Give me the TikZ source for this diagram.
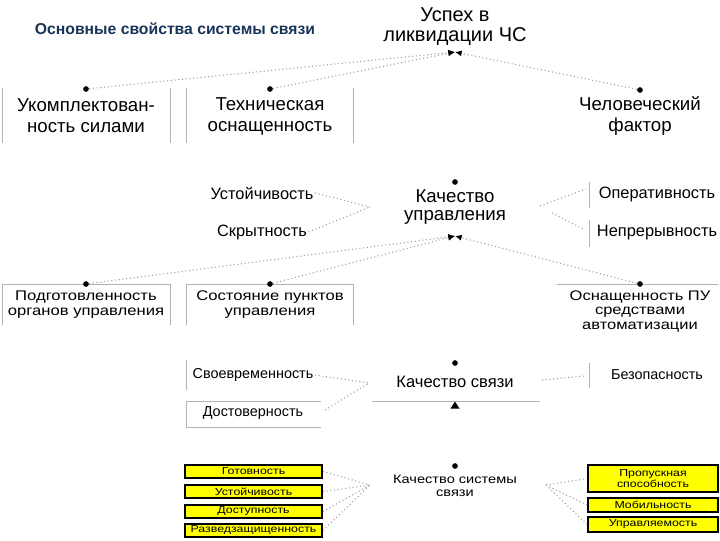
\documentclass[tikz,border=0pt]{standalone}
\usepackage{fontspec}
\setmainfont{Liberation Sans}
\newfontfamily\widefont[FakeStretch=1.19]{Liberation Sans}
\newfontfamily\widerfont[FakeStretch=1.22]{Liberation Sans}
\usetikzlibrary{arrows.meta}
\definecolor{titleblue}{RGB}{24,52,88}
\definecolor{ylw}{RGB}{255,255,0}
\tikzset{
  conn/.style={draw=gray!75, dotted, line width=0.8pt},
  arr/.style={conn, -{Latex[length=5pt,width=4.5pt,fill=black,color=black]}},
  gline/.style={draw=gray!60, line width=0.7pt},
  dotn/.style={circle, fill=black, inner sep=1.5pt},
  txt/.style={align=center, inner sep=1pt},
  ybox/.style={draw=black, line width=1.4pt, fill=ylw, inner sep=0pt, align=center, font=\widerfont\fontsize{7.6}{8.2}\selectfont},
}
\begin{document}
\begin{tikzpicture}[x=0.75pt,y=-0.75pt]
\useasboundingbox (0,0) rectangle (720,540);
\fill[white] (0,0) rectangle (720,540);

% title
\node[txt, text=titleblue, font=\bfseries\fontsize{11.8}{13}\selectfont] (title) at (175,29) {Основные свойства системы связи};

% ---------- level 1
\node[txt, font=\fontsize{15}{15}\selectfont] (uspeh) at (455,27) {Успех в\\ликвидации ЧС};
\coordinate (h1) at (455,52);

\draw[gline] (2,88) -- (2,143) (170,88) -- (170,143) (186,88) -- (186,143) (353,88) -- (353,143);
\node[dotn] (d11) at (86,89) {};
\node[dotn] (d12) at (270,89) {};
\node[dotn] (d13) at (640,90) {};
\node[txt, font=\fontsize{14}{15.75}\selectfont] (ukompl) at (86,116) {Укомплектован-\\ность силами};
\node[txt, font=\fontsize{14}{15.75}\selectfont] (tehn) at (270,116) {Техническая\\оснащенность};
\node[txt, font=\fontsize{14}{15.75}\selectfont] (chel) at (640,116) {Человеческий\\фактор};
\draw[arr] (d11) -- (h1);
\draw[arr] (d12) -- (h1);
\draw[arr] (d13) -- (h1);

% ---------- level 2
\node[dotn] (dku) at (455,182) {};
\node[txt, font=\fontsize{14}{13.5}\selectfont] (kuprav) at (455,207) {Качество\\управления};
\coordinate (h2) at (455,236);

\node[txt, font=\fontsize{12.3}{14}\selectfont] (ustoi) at (262,193) {Устойчивость};
\node[txt, font=\fontsize{12.3}{14}\selectfont] (skryt) at (262,232) {Скрытность};
\node[txt, font=\fontsize{12.3}{14}\selectfont] (operat) at (657,194) {Оперативность};
\node[txt, font=\fontsize{12.3}{14}\selectfont] (nepr) at (657,233) {Непрерывность};
\draw[gline] (589,182) -- (589,208) (589,220) -- (589,247);
\coordinate (cl2) at (370,207);
\coordinate (cr2a) at (540,206);
\coordinate (cr2b) at (552,213);
\draw[conn] (ustoi.east) -- (cl2);
\draw[conn] (skryt.east) -- (cl2);
\draw[conn] (cr2a) -- (586,189);
\draw[conn] (cr2b) -- (583,229);

\draw[gline] (2,325) -- (2,284) -- (170,284) -- (170,325);
\draw[gline] (186,325) -- (186,284) -- (353,284) -- (353,325);
\draw[gline] (557,284) -- (718,284);
\node[dotn] (d21) at (86,284) {};
\node[dotn] (d22) at (270,284) {};
\node[dotn] (d23) at (640,284) {};
\node[txt, font=\widefont\fontsize{10.5}{11.4}\selectfont] (podg) at (86,304.5) {Подготовленность\\органов управления};
\node[txt, font=\widefont\fontsize{10.5}{11.4}\selectfont] (sost) at (270,304.5) {Состояние пунктов\\управления};
\node[txt, font=\widefont\fontsize{10.4}{10.6}\selectfont] (osnpu) at (640,311.5) {Оснащенность ПУ\\средствами\\автоматизации};
\draw[arr] (d21) -- (h2);
\draw[arr] (d22) -- (h2);
\draw[arr] (d23) -- (h2);

% ---------- level 3
\node[dotn] (dks) at (455,363) {};
\node[txt, font=\fontsize{12.4}{14}\selectfont] (ksv) at (455,382) {Качество связи};
\draw[gline] (372,401) -- (540,401);
\fill (455,401.5) -- (450.5,408.5) -- (459.5,408.5) -- cycle;

\draw[gline] (186,360) -- (186,390);
\draw[gline] (321,401) -- (186,401) -- (186,427) -- (321,427);
\node[txt, font=\fontsize{10.8}{12}\selectfont] (svoevr) at (253,375) {Своевременность};
\node[txt, font=\fontsize{10.8}{12}\selectfont] (dostov) at (253,413) {Достоверность};
\node[txt, font=\fontsize{10.8}{12}\selectfont] (bezop) at (657,375) {Безопасность};
\draw[gline] (589,363) -- (589,388);
\coordinate (cl3) at (369,383);
\draw[conn] (svoevr.east) -- (cl3);
\draw[conn] (325,410) -- (cl3);
\coordinate (cr3) at (542,380);
\draw[conn] (cr3) -- (585,376);

% ---------- level 4
\node[dotn] (dkss) at (455,466) {};
\node[txt, font=\widefont\fontsize{9.2}{10}\selectfont] (kss) at (455,485.5) {Качество системы\\связи};

\node[ybox, minimum width=102.75pt, minimum height=9.75pt] (gotov) at (253.5,471.5) {Готовность};
\node[ybox, minimum width=102.75pt, minimum height=9.75pt] (ustoi2) at (253.5,491.5) {Устойчивость};
\node[ybox, minimum width=102.75pt, minimum height=9.75pt] (dostup) at (253.5,511.5) {Доступность};
\node[ybox, minimum width=102.75pt, minimum height=9.75pt] (razv) at (253.5,530.5) {Разведзащищенность};

\node[ybox, minimum width=97.5pt, minimum height=20.25pt] (propusk) at (653,478.5) {Пропускная\\способность};
\node[ybox, minimum width=97.5pt, minimum height=10.5pt] (mobil) at (653,505) {Мобильность};
\node[ybox, minimum width=97.5pt, minimum height=11.25pt] (uprav) at (653,524.5) {Управляемость};

\coordinate (cl4) at (370,485);
\draw[conn] (gotov.east) -- (cl4);
\draw[conn] (ustoi2.east) -- (cl4);
\draw[conn] (dostup.east) -- (cl4);
\draw[conn] (razv.east) -- (cl4);
\coordinate (cr4) at (546,485);
\draw[conn] (cr4) -- (propusk.west);
\draw[conn] (cr4) -- (mobil.west);
\draw[conn] (cr4) -- (uprav.west);
\end{tikzpicture}
\end{document}
